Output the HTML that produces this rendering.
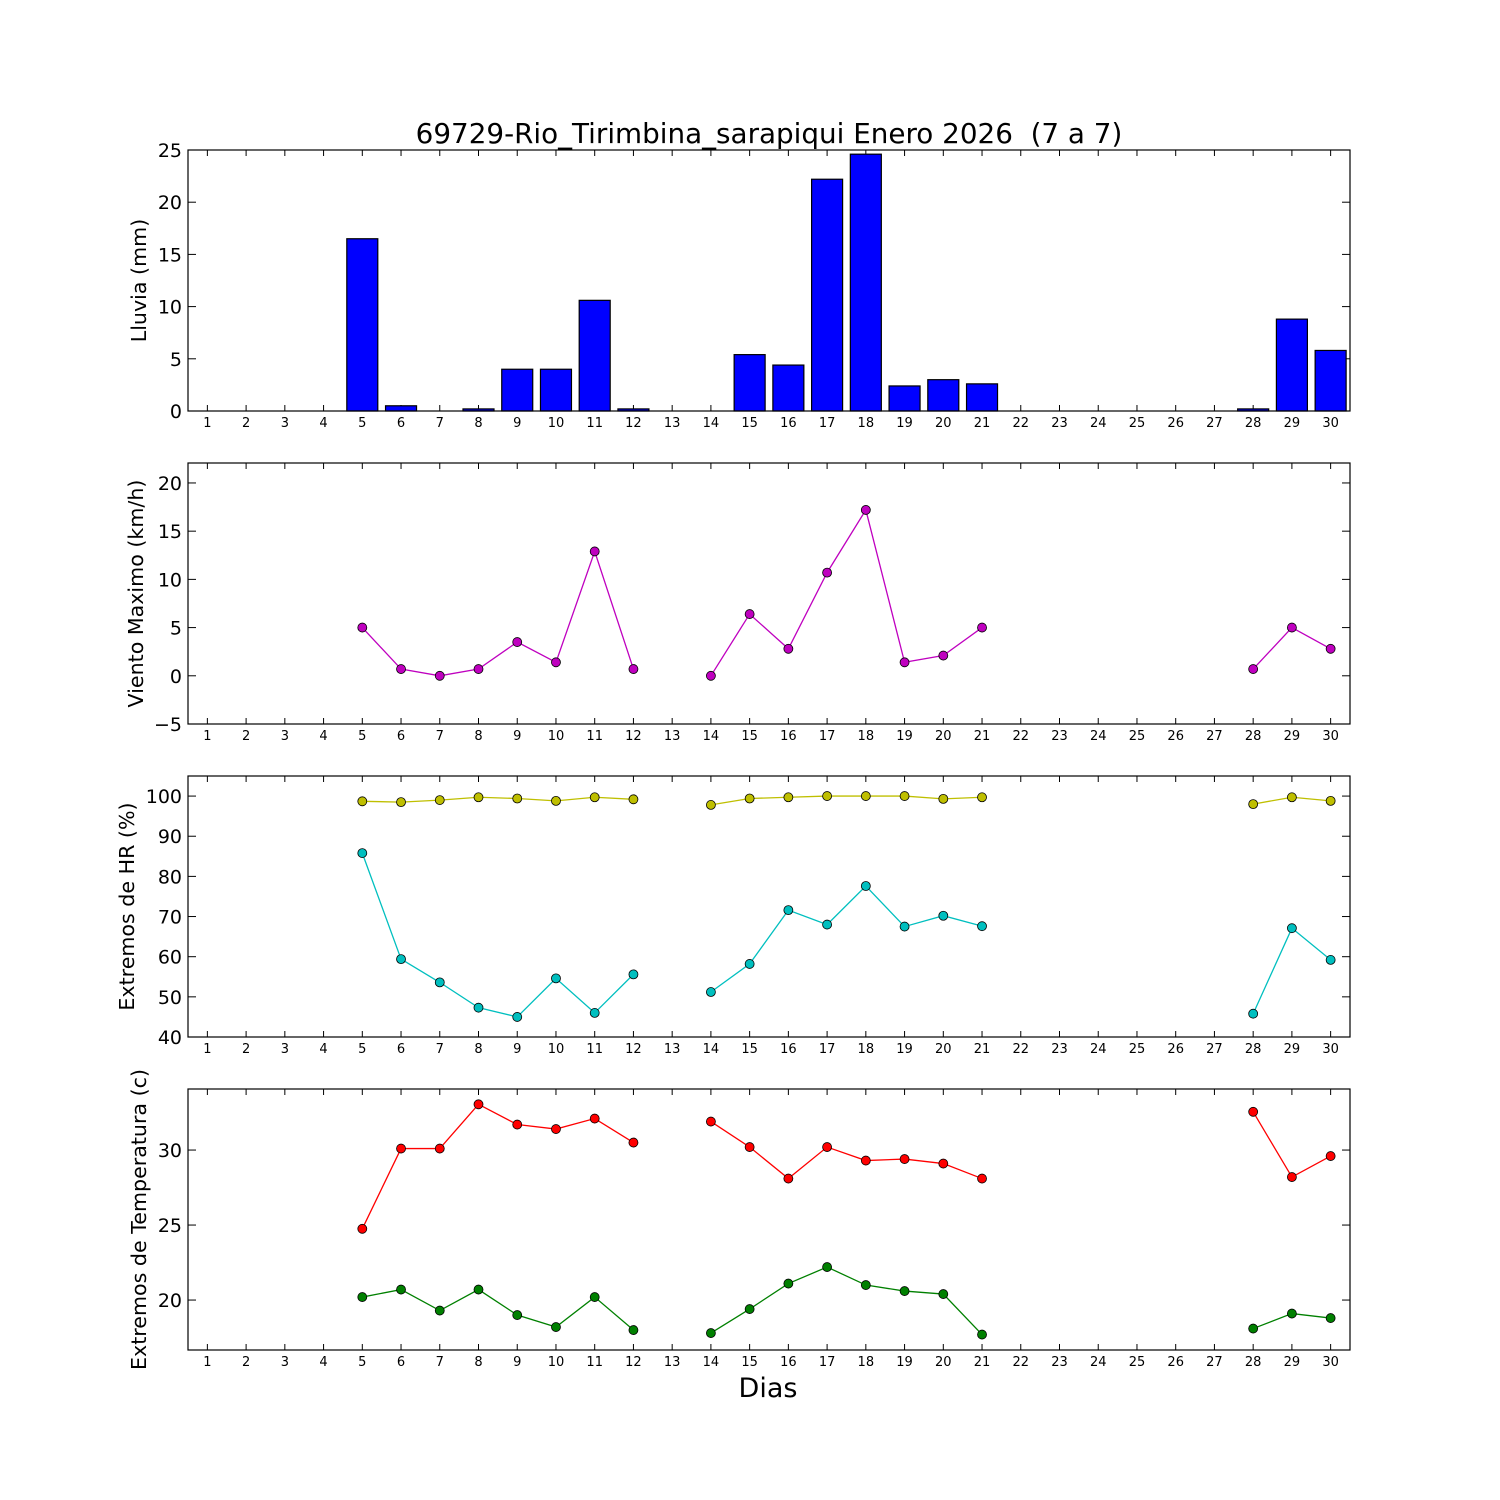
<!DOCTYPE html>
<html><head><meta charset="utf-8"><style>
body{margin:0;background:#fff}
svg{display:block;font-family:"DejaVu Sans","Liberation Sans",sans-serif}
</style></head><body>
<svg id="chart" width="1500" height="1500" viewBox="0 0 1500 1500" xmlns="http://www.w3.org/2000/svg">
<rect width="1500" height="1500" fill="#fff"/>
<text x="769" y="143" font-size="27.8" text-anchor="middle" style="white-space:pre" xml:space="preserve">69729-Rio_Tirimbina_sarapiqui Enero 2026  (7 a 7)</text>
<text x="768" y="1397" font-size="27" text-anchor="middle">Dias</text>
</svg>
<script>
const days = Array.from({length:30},(_,i)=>i+1);
const rain = [0,0,0,0,16.5,0.5,0,0.2,4,4,10.6,0.2,0,0,5.4,4.4,22.2,24.6,2.4,3,2.6,0,0,0,0,0,0,0.2,8.8,5.8];
const wind = [null,null,null,null,5,0.7,0,0.7,3.5,1.4,12.9,0.7,null,0,6.4,2.8,10.7,17.2,1.4,2.1,5,null,null,null,null,null,null,0.7,5,2.8];
const hrMax = [null,null,null,null,98.7,98.5,99,99.7,99.4,98.8,99.7,99.2,null,97.8,99.4,99.7,100,100,100,99.3,99.7,null,null,null,null,null,null,98,99.7,98.8];
const hrMin = [null,null,null,null,85.8,59.4,53.6,47.3,45,54.6,46,55.6,null,51.2,58.2,71.6,68,77.6,67.5,70.2,67.6,null,null,null,null,null,null,45.8,67.1,59.2];
const tMax = [null,null,null,null,24.75,30.1,30.1,33.05,31.7,31.4,32.1,30.5,null,31.9,30.2,28.1,30.2,29.3,29.4,29.1,28.1,null,null,null,null,null,null,32.55,28.2,29.6];
const tMin = [null,null,null,null,20.2,20.7,19.3,20.7,19,18.2,20.2,18,null,17.8,19.4,21.1,22.2,21,20.6,20.4,17.7,null,null,null,null,null,null,18.1,19.1,18.8];
const rainTicks=[0,5,10,15,20,25], windTicks=[-5,0,5,10,15,20], hrTicks=[40,50,60,70,80,90,100], tTicks=[20,25,30];

const NS="http://www.w3.org/2000/svg", svg=document.getElementById('chart');
const X0=188,X1=1350;
const xs=d=>X0+(d-0.5)/30*(X1-X0);
function mk(tag,attrs,parent){const e=document.createElementNS(NS,tag);for(const k in attrs)e.setAttribute(k,attrs[k]);(parent||svg).appendChild(e);return e;}
function panel(name,top,bot,ymin,ymax,ticks,ylabel,labelX){
  const g=mk('g',{});
  
  
  const ys=v=>bot-(v-ymin)/(ymax-ymin)*(bot-top);
  ticks.forEach(t=>{
    const y=ys(t);
    mk('line',{x1:X0,x2:X0+8,y1:y,y2:y,stroke:'#000'},g);
    mk('line',{x1:X1,x2:X1-8,y1:y,y2:y,stroke:'#000'},g);
    const tx=mk('text',{x:X0-6,y:y+7,'font-size':19,'text-anchor':'end'},g);
    tx.textContent=t<0?'\u2212'+(-t):t;
    
    
  });
  days.forEach(d=>{
    const x=xs(d);
    mk('line',{x1:x,x2:x,y1:bot,y2:bot-6,stroke:'#000'},g);
    mk('line',{x1:x,x2:x,y1:top,y2:top+6,stroke:'#000'},g);
    const tx=mk('text',{x:x,y:bot+16,'font-size':13,'text-anchor':'middle'},g);
    tx.textContent=d;
    
    
  });
  const yl=mk('text',{x:labelX,y:(top+bot)/2,'font-size':20.6,'text-anchor':'middle',transform:`rotate(-90 ${labelX} ${(top+bot)/2})`},g);
  yl.textContent=ylabel;
  
  
  return {g,ys,frame:()=>mk('rect',{x:X0,y:top,width:X1-X0,height:bot-top,fill:'none',stroke:'#000','stroke-width':1.2},g)};
}
function series(p,vals,color,name){
  let pts=[];const segs=[];
  vals.forEach((v,i)=>{if(v===null){if(pts.length)segs.push(pts);pts=[];}else pts.push([xs(days[i]),p.ys(v)]);});
  if(pts.length)segs.push(pts);
  segs.forEach(s=>{const l=mk('polyline',{points:s.map(q=>q.join(',')).join(' '),fill:'none',stroke:color,'stroke-width':1.3},p.g);
    });
  vals.forEach((v,i)=>{if(v===null)return;const c=mk('circle',{cx:xs(days[i]),cy:p.ys(v),r:4.5,fill:color,stroke:'#000','stroke-width':0.8},p.g);
    });
}
const p1=panel('rain',150,411,0,25,rainTicks,'Lluvia (mm)',146);
rain.forEach((v,i)=>{if(v<=0)return;const x=xs(days[i]);const b=mk('rect',{x:x-15.5,y:p1.ys(v),width:31,height:p1.ys(0)-p1.ys(v),fill:'#0000ff',stroke:'#000','stroke-width':1.2},p1.g);
  });
p1.frame();
const p2=panel('wind',463,724,-5,22.07,windTicks,'Viento Maximo (km/h)',143);
series(p2,wind,'#bf00bf','wind');p2.frame();
const p3=panel('humidity',776,1037,40,105,hrTicks,'Extremos de HR (%)',134);
series(p3,hrMax,'#bfbf00','hr-max');series(p3,hrMin,'#00bfbf','hr-min');p3.frame();
const p4=panel('temperature',1089,1350,16.67,34.07,tTicks,'Extremos de Temperatura (c)',146);
series(p4,tMax,'#ff0000','temp-max');series(p4,tMin,'#008000','temp-min');p4.frame();
</script>
</body></html>
